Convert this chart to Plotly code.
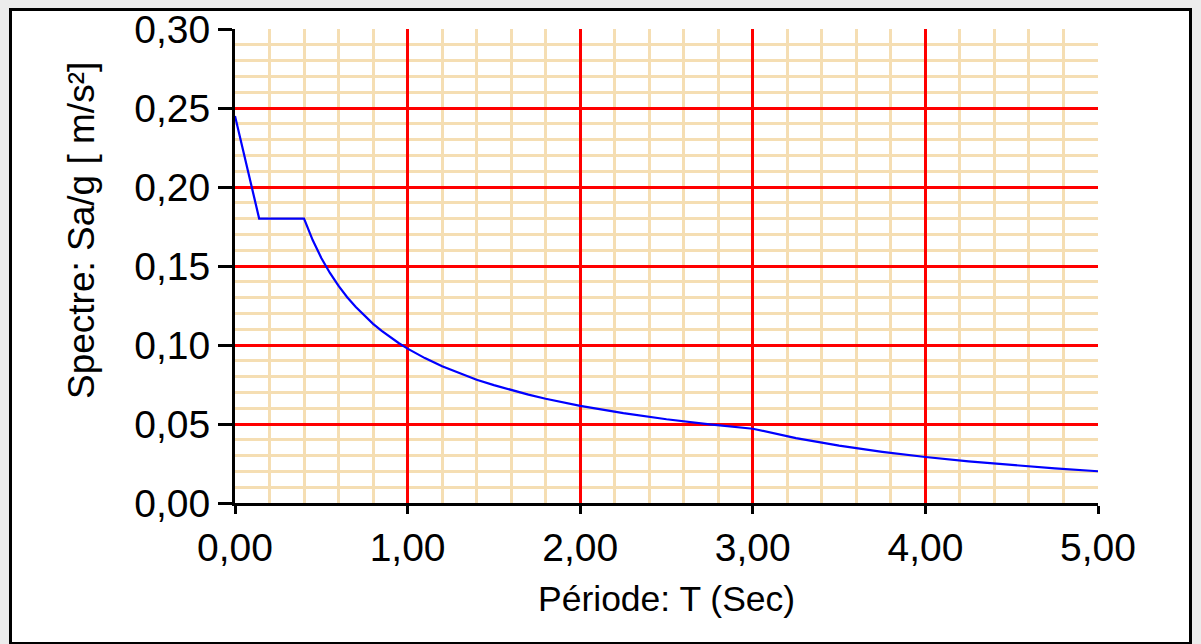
import plotly.graph_objects as go

# Period T (s) and spectrum Sa/g
periods = [0.00, 0.14, 0.40, 0.45, 0.50, 0.55, 0.60, 0.65, 0.70, 0.75, 0.80,
           0.85, 0.90, 0.95, 1.00, 1.10, 1.20, 1.30, 1.40, 1.50, 1.60, 1.70,
           1.80, 1.90, 2.00, 2.25, 2.50, 2.75, 3.00, 3.25, 3.50, 3.75, 4.00,
           4.25, 4.50, 4.75, 5.00]
spectrum = [0.2450, 0.1800, 0.1800, 0.1664, 0.1551, 0.1456, 0.1374, 0.1302,
            0.1240, 0.1184, 0.1134, 0.1089, 0.1048, 0.1011, 0.0977, 0.0917,
            0.0865, 0.0820, 0.0780, 0.0746, 0.0715, 0.0686, 0.0660, 0.0637,
            0.0615, 0.0569, 0.0530, 0.0498, 0.0470, 0.0411, 0.0363, 0.0324,
            0.0291, 0.0263, 0.0239, 0.0219, 0.0201]

x_tickvals = [0, 1, 2, 3, 4, 5]
x_ticktext = ["0,00", "1,00", "2,00", "3,00", "4,00", "5,00"]
y_tickvals = [0.00, 0.05, 0.10, 0.15, 0.20, 0.25, 0.30]
y_ticktext = ["0,00", "0,05", "0,10", "0,15", "0,20", "0,25", "0,30"]

x_title = "Période: T (Sec)"
y_title = "Spectre: Sa/g [ m/s²]"

# minor grid positions (every 0.2 s and every 0.01)
x_minor = [round(i * 0.2, 2) for i in range(26)]
y_minor = [round(i * 0.01, 2) for i in range(31)]

W, H = 1201, 644
L, R, T, B = 235, 103, 29, 141
pw, ph = W - L - R, H - T - B


def px_x(p):
    return (p - L) / pw


def px_y(p):
    return (H - B - p) / ph


FONT = "Liberation Sans, Arial, sans-serif"

fig = go.Figure()
fig.add_trace(go.Scatter(x=periods, y=spectrum, mode="lines",
                         line=dict(color="#0000ff", width=2.2),
                         hoverinfo="x+y", showlegend=False))

fig.update_layout(
    width=W, height=H,
    margin=dict(l=L, r=R, t=T, b=B, autoexpand=False),
    paper_bgcolor="#ececec",
    plot_bgcolor="white",
    font=dict(family=FONT, color="black", size=38),
    showlegend=False,
    shapes=[dict(type="rect", xref="paper", yref="paper", layer="below",
                 x0=px_x(10.5), x1=px_x(1190.5), y0=px_y(643.5), y1=px_y(9.5),
                 line=dict(color="black", width=3), fillcolor="white")],
    annotations=[
        dict(text=x_title, xref="paper", yref="paper", x=0.5, y=px_y(599),
             xanchor="center", yanchor="middle", showarrow=False,
             font=dict(size=35.5, family=FONT, color="black")),
        dict(text=y_title, xref="paper", yref="paper", x=px_x(81), y=px_y(231),
             xanchor="center", yanchor="middle", showarrow=False, textangle=-90,
             font=dict(size=37, family=FONT, color="black")),
    ],
)

fig.update_xaxes(
    range=[0, 5], tickmode="array", tickvals=x_tickvals, ticktext=x_ticktext,
    showgrid=True, gridcolor="#ff0000", gridwidth=3,
    minor=dict(tickmode="array", tickvals=x_minor, showgrid=True,
               gridcolor="#f5deb3", gridwidth=3, ticks=""),
    zeroline=False, showline=True, linecolor="black", linewidth=3,
    ticks="outside", ticklen=8, tickwidth=3, tickcolor="black",
    tickfont=dict(size=39, family=FONT, color="black"),
)
fig.update_yaxes(
    range=[0, 0.30], tickmode="array", tickvals=y_tickvals, ticktext=y_ticktext,
    showgrid=True, gridcolor="#ff0000", gridwidth=3,
    minor=dict(tickmode="array", tickvals=y_minor, showgrid=True,
               gridcolor="#f5deb3", gridwidth=3, ticks=""),
    zeroline=False, showline=True, linecolor="black", linewidth=3,
    ticks="outside", ticklen=14, tickwidth=3, tickcolor="black",
    tickfont=dict(size=39, family=FONT, color="black"),
)

fig.write_html("out.html", config={"displayModeBar": False},
               post_script="document.body.style.margin='0';"
                           "document.body.style.padding='0';")
